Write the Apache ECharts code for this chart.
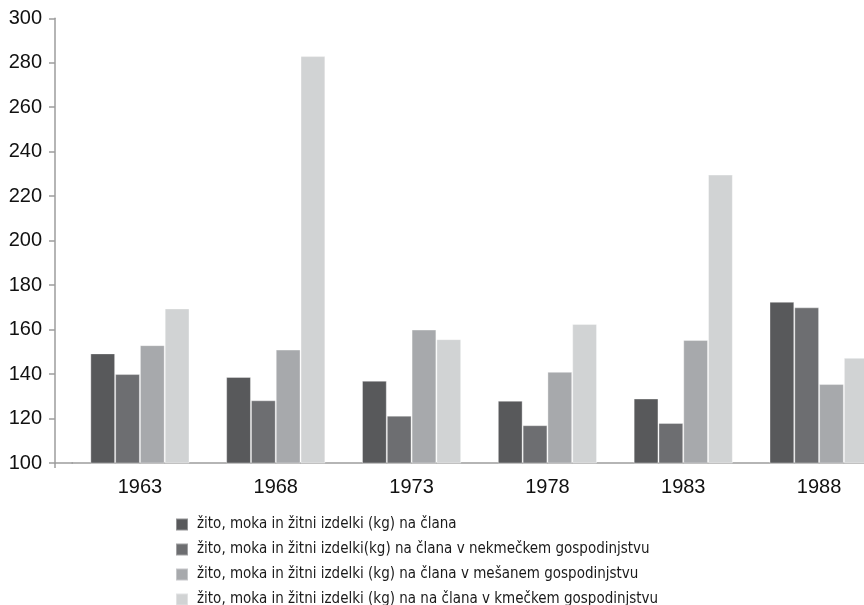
<!DOCTYPE html>
<html>
<head>
<meta charset="utf-8">
<script src="https://cdn.jsdelivr.net/npm/echarts@6/dist/echarts.min.js"></script>
<style>
html,body{margin:0;padding:0;background:#fff;overflow:hidden;}
#chart{width:887px;height:605px;}
</style>
</head>
<body>
<div id="chart"></div>
<script>
const categories = ['1963', '1968', '1973', '1978', '1983', '1988'];
const seriesNames = [
  'žito, moka in žitni izdelki (kg) na člana',
  'žito, moka in žitni izdelki(kg) na člana v nekmečkem gospodinjstvu',
  'žito, moka in žitni izdelki (kg) na člana v mešanem gospodinjstvu',
  'žito, moka in žitni izdelki (kg) na na člana v kmečkem gospodinjstvu'
];
const vsega = [149.3, 138.7, 137, 128, 129, 172.5];
const nekmecka = [140, 128.2, 121.3, 117, 118, 170];
const mesana = [153, 151, 160, 141, 155.3, 135.5];
const kmecka = [169.5, 283, 155.7, 162.5, 229.7, 147.3];
const yTicks = { min: 100, max: 300, interval: 20 };

const colors = ['#58595b', '#6d6e71', '#a7a9ac', '#d1d3d4'];
const values = [vsega, nekmecka, mesana, kmecka];
const axisColor = '#9d9d9d';
const fontFam = '"Liberation Sans", Arial, sans-serif';

const chart = echarts.init(document.getElementById('chart'), null, { renderer: 'canvas' });
chart.setOption({
  animation: false,
  color: colors,
  grid: { left: 72, right: 0, top: 18.3, height: 444.7, containLabel: false },
  legend: {
    orient: 'vertical',
    left: 175,
    top: 517,
    height: 100,
    itemWidth: 12,
    itemHeight: 12,
    itemGap: 10,
    icon: 'rect',
    padding: 0,
    data: seriesNames,
    textStyle: { fontFamily: '"DejaVu Sans Condensed", "Liberation Sans Narrow", sans-serif', fontSize: 15, lineHeight: 12, color: '#1a1a1a', padding: [0, 0, 0, 4] }
  },
  xAxis: {
    type: 'category',
    data: categories,
    axisLine: { lineStyle: { color: axisColor, width: 1.5 } },
    axisTick: { show: false },
    axisLabel: { color: '#111', fontSize: 20, fontFamily: fontFam, margin: 14 }
  },
  yAxis: {
    type: 'value',
    min: yTicks.min,
    max: yTicks.max,
    interval: yTicks.interval,
    offset: 17,
    splitLine: { show: false },
    axisLine: { show: true, lineStyle: { color: axisColor, width: 1.5 } },
    axisTick: { show: true, length: 6, lineStyle: { color: axisColor, width: 1.5 } },
    axisLabel: { color: '#111', fontSize: 20, fontFamily: fontFam, margin: 13 }
  },
  graphic: [
    { type: 'line', shape: { x1: 55, y1: 463, x2: 73, y2: 463 }, style: { stroke: axisColor, lineWidth: 1.5 } },
    { type: 'line', shape: { x1: 55, y1: 463, x2: 55, y2: 468 }, style: { stroke: axisColor, lineWidth: 1.5 } }
  ],
  series: values.map((v, i) => ({
    name: seriesNames[i],
    type: 'bar',
    data: v,
    barGap: '0%',
    barCategoryGap: '27%',
    itemStyle: { color: colors[i], borderColor: 'rgba(255,255,255,0.35)', borderWidth: 1 }
  }))
});
</script>
</body>
</html>
